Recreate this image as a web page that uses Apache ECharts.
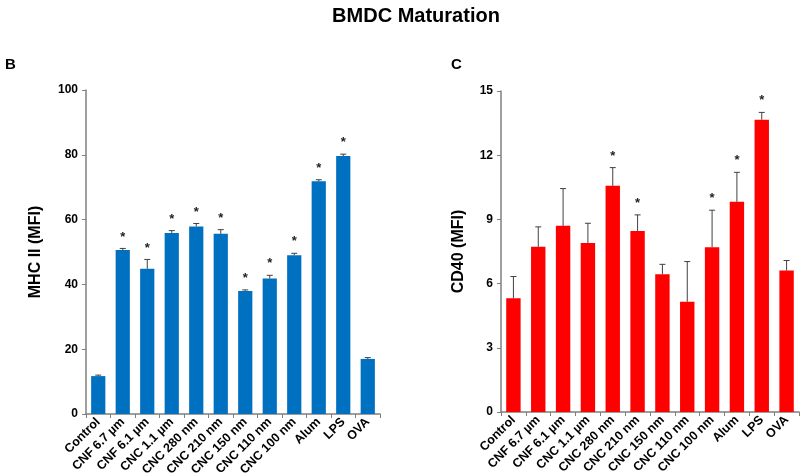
<!DOCTYPE html>
<html>
<head>
<meta charset="utf-8">
<script src="https://cdn.jsdelivr.net/npm/echarts@6/dist/echarts.min.js"></script>
<style>html,body{margin:0;padding:0;background:#fff}#c{width:800px;height:476px}</style>
</head>
<body>
<div id="c"></div>
<script>
var categories = ['Control','CNF 6.7 µm','CNF 6.1 µm','CNC 1.1 µm','CNC 280 nm','CNC 210 nm','CNC 150 nm','CNC 110 nm','CNC 100 nm','Alum','LPS','OVA'];
var mhcValues = [11.7, 50.6, 44.8, 55.9, 57.9, 55.6, 38.0, 41.8, 49.0, 71.8, 79.6, 17.0];
var mhcErrors = [0.3, 0.5, 2.9, 0.7, 0.9, 1.3, 0.3, 1.0, 0.6, 0.5, 0.6, 0.4];
var mhcSig = [0,1,1,1,1,1,1,1,1,1,1,0];
var cd40Values = [5.31, 7.72, 8.70, 7.90, 10.57, 8.46, 6.44, 5.15, 7.70, 9.82, 13.66, 6.61];
var cd40Errors = [1.02, 0.93, 1.74, 0.92, 0.85, 0.75, 0.46, 1.88, 1.73, 1.38, 0.34, 0.47];
var cd40Sig = [0,0,0,0,1,1,0,0,1,1,1,0];
var mhcTicks = {min:0, max:100, interval:20};
var cd40Ticks = {min:0, max:15, interval:3};

var FONT = '"Liberation Sans", Arial, sans-serif';
var AX = '#7f7f7f';

function errSeries(xi, vals, errs, sig) {
  var data = vals.map(function(v, i){ return [i, v, errs[i], sig[i]]; });
  return {
    type: 'custom', xAxisIndex: xi, yAxisIndex: xi, z: 10,
    data: data,
    renderItem: function(params, api) {
      var i = api.value(0), v = api.value(1), e = api.value(2), s = api.value(3);
      var p0 = api.coord([i, v]);
      var p1 = api.coord([i, v + e]);
      var hw = 3;
      var children = [
        {type:'line', shape:{x1:p0[0], y1:p0[1], x2:p1[0], y2:p1[1]}, style:{stroke:'#404040', lineWidth:1}},
        {type:'line', shape:{x1:p1[0]-hw, y1:p1[1], x2:p1[0]+hw, y2:p1[1]}, style:{stroke:'#404040', lineWidth:1}}
      ];
      if (s) {
        children.push({type:'text', style:{text:'*', x:p1[0], y:p1[1]-5, align:'center', verticalAlign:'bottom', font:'bold 13px ' + FONT, fill:'#222'}});
      }
      return {type:'group', children: children};
    }
  };
}

function xAx(gi) {
  return {
    type:'category', gridIndex: gi, data: categories,
    axisLine:{lineStyle:{color:AX, width:1.5}},
    axisTick:{show:true, length:4, lineStyle:{color:AX}},
    axisLabel:{rotate:45, interval:0, color:'#000', fontSize:12.5, fontWeight:'bold', fontFamily:FONT, margin:6}
  };
}
function yAx(gi, t, name, gap) {
  return {
    type:'value', gridIndex: gi, min:t.min, max:t.max, interval:t.interval,
    name: name, nameLocation:'middle', nameGap: gap, nameRotate: 90,
    nameTextStyle:{color:'#000', fontSize:16, fontWeight:'bold', fontFamily:FONT},
    axisLine:{show:true, lineStyle:{color:AX, width:1.5}},
    axisTick:{show:true, length:4, lineStyle:{color:AX}},
    splitLine:{show:false},
    axisLabel:{color:'#000', fontSize:12, fontWeight:'bold', fontFamily:FONT, margin:8}
  };
}

var chart = echarts.init(document.getElementById('c'), null, {renderer:'canvas'});
chart.setOption({
  animation:false,
  backgroundColor:'#fff',
  title:[
    {text:'BMDC Maturation', left:411, top:1, textAlign:'center', textStyle:{fontSize:20, fontWeight:'bold', fontFamily:FONT, color:'#000'}},
    {text:'B', left:0, top:52, textStyle:{fontSize:15, fontWeight:'bold', fontFamily:FONT, color:'#000'}},
    {text:'C', left:446, top:52, textStyle:{fontSize:15, fontWeight:'bold', fontFamily:FONT, color:'#000'}}
  ],
  grid:[
    {left:86, top:90, width:294, height:324, outerBoundsMode:'none', containLabel:false},
    {left:501, top:91, width:298, height:321, outerBoundsMode:'none', containLabel:false}
  ],
  xAxis:[xAx(0), xAx(1)],
  yAxis:[yAx(0, mhcTicks, 'MHC II (MFI)', 42), yAx(1, cd40Ticks, 'CD40 (MFI)', 34)],
  series:[
    {type:'bar', xAxisIndex:0, yAxisIndex:0, data:mhcValues, barCategoryGap:'42%', itemStyle:{color:'#0070C0'}},
    errSeries(0, mhcValues, mhcErrors, mhcSig),
    {type:'bar', xAxisIndex:1, yAxisIndex:1, data:cd40Values, barCategoryGap:'42%', itemStyle:{color:'#FF0000'}},
    errSeries(1, cd40Values, cd40Errors, cd40Sig)
  ]
});
</script>
</body>
</html>
